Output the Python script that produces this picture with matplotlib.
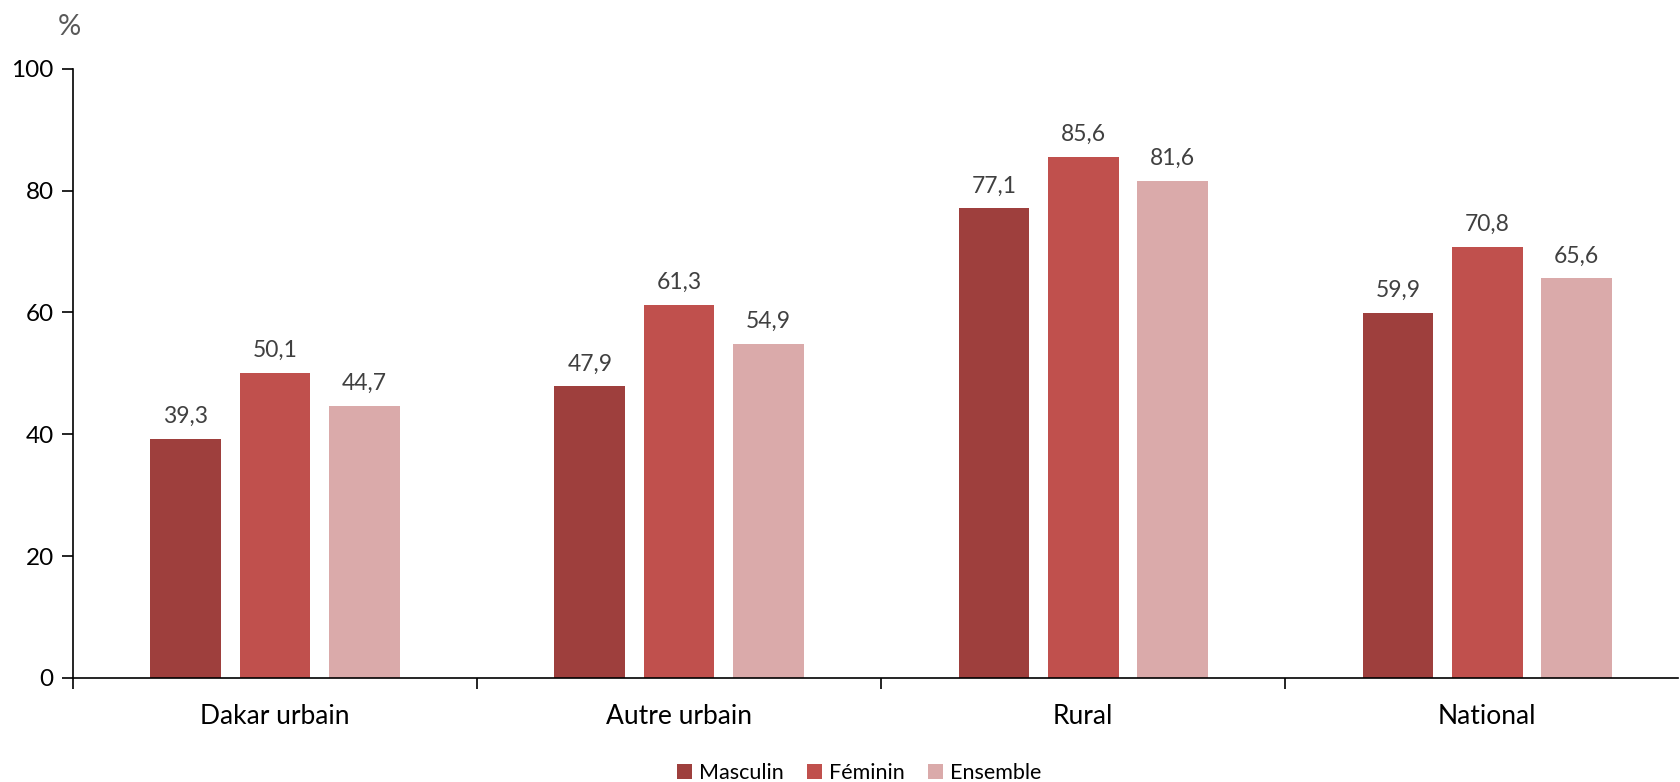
import matplotlib
matplotlib.use("Agg")
import matplotlib.pyplot as plt
import numpy as np
from matplotlib.patches import Patch

plt.rcParams['font.family'] = ['Lato', 'DejaVu Sans']

categories = ["Dakar urbain", "Autre urbain", "Rural", "National"]
series = ["Masculin", "Féminin", "Ensemble"]
masculin = [39.3, 47.9, 77.1, 59.9]
feminin = [50.1, 61.3, 85.6, 70.8]
ensemble = [44.7, 54.9, 81.6, 65.6]
colors = ["#9E3F3D", "#C0504D", "#DAAAAA"]
yticks = [0, 20, 40, 60, 80, 100]

fig = plt.figure(figsize=(16.8, 7.82), dpi=100)
ax = fig.add_axes([0.0435, 0.133, 0.9555, 0.779])

x = np.arange(len(categories))
width = 0.175
pitch = 0.221
for i, (vals, col, name) in enumerate(zip([masculin, feminin, ensemble], colors, series)):
    pos = x + (i - 1) * pitch
    ax.bar(pos, vals, width=width, color=col, label=name, zorder=2)
    for p, v in zip(pos, vals):
        ax.annotate(f"{v:.1f}".replace(".", ","), (p, v), xytext=(0, 8.5),
                    textcoords="offset points", ha="center", va="bottom",
                    fontsize=16.5, color="#404040")

ax.set_xlim(-0.5, 3.473)
ax.set_ylim(0, 100)
ax.set_yticks(yticks)
ax.set_yticklabels([str(t) for t in yticks], fontsize=17.5)
ax.set_xticks(np.arange(len(categories)) - 0.5)
ax.set_xticklabels([])
ax.set_xticks(x, minor=True)
ax.set_xticklabels(categories, minor=True, fontsize=19)
ax.tick_params(axis='x', which='minor', length=0, pad=19)
ax.tick_params(axis='x', which='major', length=8, width=1.2, direction='out')
ax.tick_params(axis='y', length=8, width=1.2, direction='out', pad=6)
for s in ['top', 'right']:
    ax.spines[s].set_visible(False)
for s in ['left', 'bottom']:
    ax.spines[s].set_linewidth(1.2)

fig.text(0.0415, 0.965, "%", fontsize=21, color="#595959", ha="center", va="center")

handles = [Patch(facecolor=c, label=n) for c, n in zip(colors, series)]
fig.legend(handles=handles, loc="center", bbox_to_anchor=(0.5115, 0.011), ncol=3,
           frameon=False, fontsize=15.5, handlelength=0.7, handleheight=0.7,
           handletextpad=0.3, columnspacing=1.1)

fig.savefig("out.png", dpi=100)
